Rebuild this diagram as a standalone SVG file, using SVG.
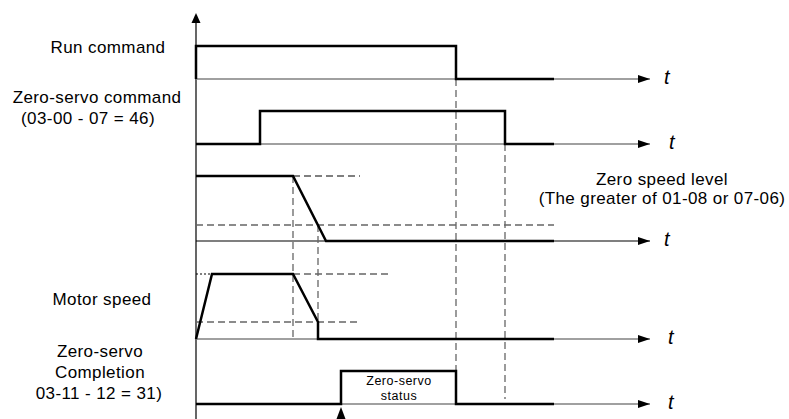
<svg xmlns="http://www.w3.org/2000/svg" width="789" height="419" viewBox="0 0 789 419">
<defs>
<marker id="ah" viewBox="0 0 12 8" refX="12" refY="4" markerWidth="12" markerHeight="8" markerUnits="userSpaceOnUse" orient="auto"><path d="M0,0 L12,4 L0,8 Z" fill="#000"/></marker>
<style>
.lbl{font-family:"Liberation Sans",Arial,sans-serif;font-size:17px;letter-spacing:0.4px;fill:#000;text-anchor:middle}
.t{font-family:"Liberation Sans",Arial,sans-serif;font-size:20px;font-style:italic;fill:#000}
.small{font-family:"Liberation Sans",Arial,sans-serif;font-size:12.5px;letter-spacing:0.5px;fill:#000;text-anchor:middle}
.axis{stroke:#808080;stroke-width:1.5;fill:none}
.axisb{stroke:#000;stroke-width:1.2;fill:none}
.sig{stroke:#000;stroke-width:2.5;fill:none;stroke-linejoin:miter}
.dash{stroke:#666;stroke-width:1.3;stroke-dasharray:7 4;fill:none}
.dashb{stroke:#000;stroke-width:1.2;stroke-dasharray:7 4;fill:none}
.dot{stroke:#000;stroke-width:1.2;stroke-dasharray:2 2;fill:none}
</style>
</defs>
<rect width="789" height="419" fill="#fff"/>
<g id="axes">
<line class="axisb" x1="196" y1="419" x2="196" y2="22"/>
<path d="M191.5,23 L196,13 L200.5,23 Z" fill="#000"/>
<line class="axis" x1="196" y1="79" x2="650" y2="79" marker-end="url(#ah)"/>
<line class="axis" x1="196" y1="144" x2="650" y2="144" marker-end="url(#ah)"/>
<line class="axisb" x1="196" y1="241" x2="650" y2="241" marker-end="url(#ah)"/>
<line class="axis" x1="196" y1="339" x2="650" y2="339" marker-end="url(#ah)"/>
<line class="axis" x1="196" y1="404" x2="650" y2="404" marker-end="url(#ah)"/>
</g>
<g id="guides">
<line class="dash" x1="456" y1="79" x2="456" y2="399"/>
<line class="dash" x1="505" y1="144" x2="505" y2="399"/>
<line class="dashb" x1="293" y1="176" x2="360" y2="176"/>
<line class="dash" x1="196" y1="225" x2="554" y2="225"/>
<line class="dash" x1="293" y1="176" x2="293" y2="339"/>
<line class="dash" x1="318" y1="225" x2="318" y2="322"/>
<line class="dot" x1="196" y1="274" x2="212" y2="274"/>
<line class="dash" x1="293" y1="274" x2="392" y2="274"/>
<line class="dash" x1="196" y1="322" x2="358" y2="322"/>
</g>
<g id="run-command">
<polyline class="sig" points="196,79 196,46 456,46 456,79 554,79"/>
<text class="lbl" x="108" y="53">Run command</text>
<text class="t" x="664" y="84">t</text>
</g>
<g id="zero-servo-command">
<polyline class="sig" points="196,144 260,144 260,111 505,111 505,144 554,144"/>
<text class="lbl" x="97" y="103">Zero-servo command</text>
<text class="lbl" x="88" y="124">(03-00 - 07 = 46)</text>
<text class="t" x="669" y="149">t</text>
</g>
<g id="speed-ref">
<polyline class="sig" points="196,176 293,176 326,241 554,241"/>
<text class="lbl" x="662" y="184.5">Zero speed level</text>
<text class="lbl" x="662" y="203.5">(The greater of 01-08 or 07-06)</text>
<text class="t" x="664" y="246">t</text>
</g>
<g id="motor-speed">
<polyline class="sig" points="196,339 212,274 293,274 318,322 318,339 554,339"/>
<text class="lbl" x="102" y="305">Motor speed</text>
<text class="t" x="668" y="344">t</text>
</g>
<g id="zero-servo-completion">
<polyline class="sig" points="196,404 341,404 341,371 456,371 456,404 554,404"/>
<text class="small" x="399" y="385">Zero-servo</text>
<text class="small" x="399" y="400">status</text>
<path d="M336.5,419 L341,407 L345.5,419 Z" fill="#000"/>
<text class="lbl" x="100" y="357">Zero-servo</text>
<text class="lbl" x="100" y="378">Completion</text>
<text class="lbl" x="99" y="399">03-11 - 12 = 31)</text>
<text class="t" x="668" y="409">t</text>
</g>
</svg>
